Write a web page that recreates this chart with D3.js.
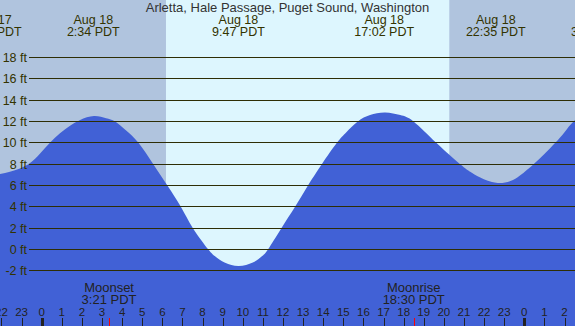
<!DOCTYPE html>
<html><head><meta charset="utf-8">
<script src="https://cdn.jsdelivr.net/npm/d3@7"></script>
<style>html,body{margin:0;padding:0;background:#b0c4de;overflow:hidden}svg{display:block}</style>
</head><body>
<script>
// ---- data ----
const title = "Arletta, Hale Passage, Puget Sound, Washington";
// tide height samples (hours from Aug 18 00:00 PDT, feet)
const tideHours = [-2.6,-2.07,-1.58,-1.08,-0.58,-0.08,0.41,0.91,1.41,1.91,2.6,3.2,3.65,4.2,4.81,5.55,6.25,6.92,7.52,8.29,8.62,9.12,9.8,10.5,10.95,11.25,11.92,12.6,13.24,13.93,14.68,15.15,15.72,16.33,17.08,17.83,18.49,19.62,20.81,21.31,21.81,22.6,23.31,23.8,24.46,25.0,25.54,26.0,26.45,27.0,27.6];
const tideFeet  = [7.0,7.08,7.28,7.6,8.1,9.0,10.0,10.9,11.6,12.15,12.52,12.3,12.0,11.15,10.0,8.0,6.0,4.0,2.0,0.0,-0.63,-1.25,-1.54,-1.22,-0.63,0.0,2.0,4.0,6.0,8.0,10.0,11.0,12.0,12.6,12.84,12.6,12.0,10.0,8.0,7.3,6.75,6.25,6.42,6.96,8.0,8.95,10.0,11.0,12.0,12.6,12.8];
// high / low tide events
const eventHours = [-2.48, 2.567, 9.783, 17.033, 22.583, 27.63];
const eventDates = ["Aug 17","Aug 18","Aug 18","Aug 18","Aug 18","Aug 19"];
const eventTimes = ["21:31 PDT","2:34 PDT","9:47 PDT","17:02 PDT","22:35 PDT","3:38 PDT"];
// moon events
const moonHours = [3.35, 18.5];
const moonNames = ["Moonset","Moonrise"];
const moonTimes = ["3:21 PDT","18:30 PDT"];
// sunrise / sunset
const sunHours = [6.18, 20.27];
// axes
const feetTicks = [-2,0,2,4,6,8,10,12,14,16,18];
const feetLabels = ["-2 ft","0 ft","2 ft","4 ft","6 ft","8 ft","10 ft","12 ft","14 ft","16 ft","18 ft"];
const hourTicks = [-2,-1,0,1,2,3,4,5,6,7,8,9,10,11,12,13,14,15,16,17,18,19,20,21,22,23,24,25,26];
const hourLabels = ["22","23","0","1","2","3","4","5","6","7","8","9","10","11","12","13","14","15","16","17","18","19","20","21","22","23","0","1","2"];
const midnightHours = [0, 24];

// ---- drawing ----
const W = 575, H = 326;
const x = d3.scaleLinear().domain([0, 24]).range([41.7, 524.3]);
const y = d3.scaleLinear().domain([0, 18]).range([249.5, 57.5]);
const font = "'Liberation Sans', Arial, sans-serif";
const txt = "#333300";

const svg = d3.select("body").append("svg").attr("width", W).attr("height", H);

svg.append("rect").attr("x",0).attr("y",0).attr("width",W).attr("height",H).attr("fill","#b0c4de");
svg.append("rect").attr("x", x(sunHours[0])).attr("y",0)
  .attr("width", x(sunHours[1]) - x(sunHours[0])).attr("height", H).attr("fill","#ddf6fe");

const tide = tideHours.map((h,i)=>({h, f: tideFeet[i]}));
svg.append("path").datum(tide)
  .attr("d", d3.area().x(d=>x(d.h)).y0(H).y1(d=>y(d.f)).curve(d3.curveNatural))
  .attr("fill", "#4161d6");

// grid lines + feet labels
const gy = v => Math.floor(y(v)) + 0.5;
svg.append("g").selectAll("line").data(feetTicks).join("line")
  .attr("x1", 29).attr("x2", W).attr("y1", gy).attr("y2", gy)
  .attr("stroke", "#2e2e05").attr("stroke-width", 1);
svg.append("g").selectAll("text").data(feetTicks).join("text")
  .attr("x", 27).attr("y", d => gy(d)).attr("dy", "0.36em")
  .attr("text-anchor","end").attr("font-family",font).attr("font-size","12.5px").attr("fill",txt)
  .text((d,i)=>feetLabels[i]);

// title
svg.append("text").attr("x", 287.5).attr("y", 11.5).attr("text-anchor","middle")
  .attr("font-family",font).attr("font-size","13px").attr("fill","#333").text(title);

// tide event labels
const ev = svg.append("g").attr("font-family",font).attr("font-size","12.5px").attr("fill",txt).attr("text-anchor","middle");
ev.selectAll("text.d").data(eventHours).join("text").attr("class","d")
  .attr("x", d=>x(d)).attr("y", 23.5).text((d,i)=>eventDates[i]);
ev.selectAll("text.t").data(eventHours).join("text").attr("class","t")
  .attr("x", d=>x(d)).attr("y", 36).text((d,i)=>eventTimes[i]);

// moon labels
const mn = svg.append("g").attr("font-family",font).attr("font-size","13px").attr("fill","#222").attr("text-anchor","middle");
mn.selectAll("text.n").data(moonHours).join("text").attr("class","n")
  .attr("x", d=>x(d)).attr("y", 291.5).text((d,i)=>moonNames[i]);
mn.selectAll("text.t").data(moonHours).join("text").attr("class","t")
  .attr("x", d=>x(d)).attr("y", 304).text((d,i)=>moonTimes[i]);

// hour axis
const tx = h => Math.round(x(h)) + 0.5;
svg.append("g").selectAll("text").data(hourTicks).join("text")
  .attr("x", d=>x(d)).attr("y", 315.5).attr("text-anchor","middle")
  .attr("font-family",font).attr("font-size","11.5px").attr("fill","#222")
  .text((d,i)=>hourLabels[i]);
svg.append("g").selectAll("line").data(hourTicks).join("line")
  .attr("x1", tx).attr("x2", tx).attr("y1", 318).attr("y2", H)
  .attr("stroke","#222").attr("stroke-width", d => midnightHours.includes(d) ? 3 : 1);
svg.append("g").selectAll("line").data(moonHours).join("line")
  .attr("x1", tx).attr("x2", tx).attr("y1", 318).attr("y2", H)
  .attr("stroke","#ff0000").attr("stroke-width", 1);
</script>
</body></html>
